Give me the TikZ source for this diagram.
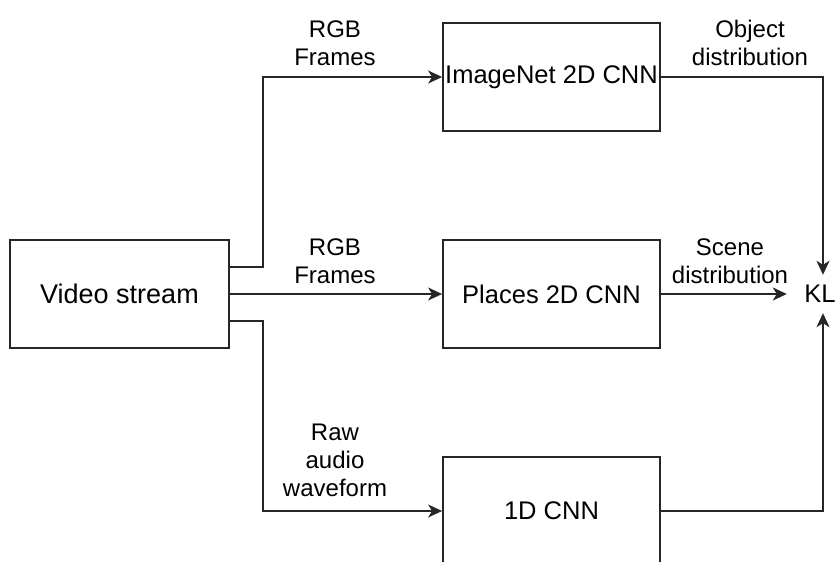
\documentclass[tikz,border=0pt]{standalone}
\usepackage{fontspec}
\setmainfont{Liberation Sans}
\usetikzlibrary{arrows.meta,calc}
\begin{document}
\begin{tikzpicture}[x=1pt,y=-1pt,
  box/.style={draw=black!85,line width=1.8pt,minimum width=217pt,minimum height=108pt,
    inner sep=0pt,font=\fontsize{25.5}{30}\selectfont},
  wire/.style={draw=black!85,line width=1.8pt},
  flow/.style={wire,-{Stealth[length=14pt,width=13pt,inset=4pt]}},
  lbl/.style={align=center,font=\fontsize{24}{28}\selectfont,inner sep=0pt}]
  \useasboundingbox (0,0) rectangle (838,562);
  \clip (0,0) rectangle (838,562);

  % processing blocks
  \node[box,minimum width=219pt,font=\fontsize{27}{30}\selectfont] (video) at (119.5,294) {Video stream};
  \node[box] (imnet) at (551.5,77) {ImageNet 2D CNN};
  \node[box] (places) at (551.5,294) {Places 2D CNN};
  \node[box] (audio) at (551.5,511) {1D CNN};
  \node[font=\fontsize{25.5}{28}\selectfont,inner sep=0pt,minimum width=66pt,
    minimum height=38pt] (kl) at (820,294) {KL};

  % exit points on the right side of the source block
  \coordinate (vtop) at ($(video.east)+(0,-27)$);
  \coordinate (vbot) at ($(video.east)+(0,27)$);
  \coordinate (kltop) at ($(kl.north)+(3,0)$);
  \coordinate (klbot) at ($(kl.south)+(3,0)$);

  % inputs
  \draw[flow] (vtop) -- (vtop -| 263,0) |- (imnet.west);
  \draw[flow] (video.east) -- (places.west);
  \draw[flow] (vbot) -- (vbot -| 263,0) |- (audio.west);

  % outputs into KL
  \draw[flow] (imnet.east) -| (kltop);
  \draw[flow] (places.east) -- (kl.west);
  \draw[flow] (audio.east) -| (klbot);

  % connector labels
  \node[lbl] (l1) at (335,43.5) {RGB\\Frames};
  \node[lbl] (l2) at (335,261) {RGB\\Frames};
  \node[lbl] (l3) at (335,460) {Raw\\audio\\waveform};
  \node[lbl] (l4) at (750,43) {Object\\distribution};
  \node[lbl] (l5) at (730,261) {Scene\\distribution};
\end{tikzpicture}
\end{document}
